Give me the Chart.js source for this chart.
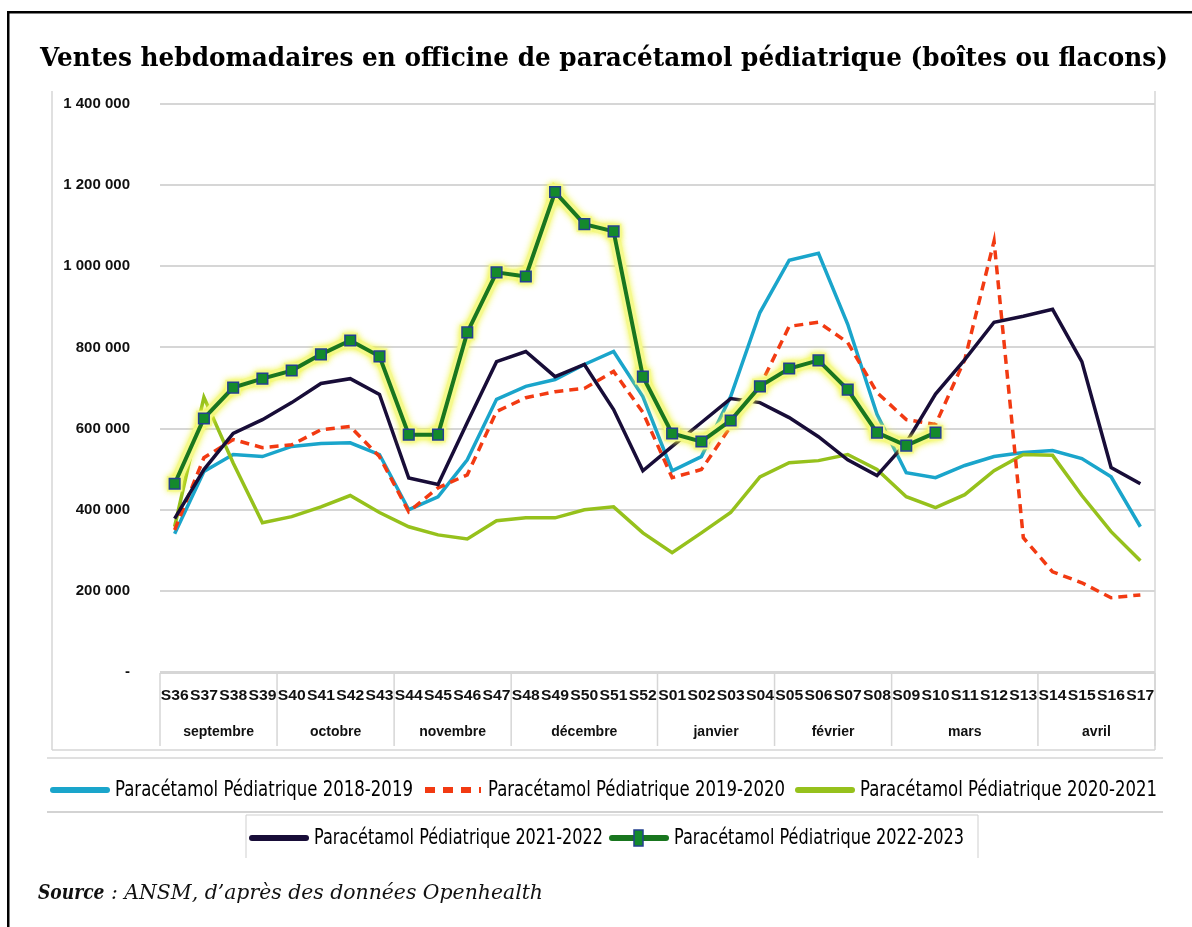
<!DOCTYPE html>
<html>
<head>
<meta charset="utf-8">
<script src="https://cdn.jsdelivr.net/npm/chart.js@4.4.1/dist/chart.umd.min.js"></script>
<style>
  html, body { margin: 0; padding: 0; background: #fff; }
  canvas { display: block; }
</style>
</head>
<body>
<canvas id="chart" width="1192" height="927"></canvas>
<script>
// categories
const weeks = ["S36", "S37", "S38", "S39", "S40", "S41", "S42", "S43", "S44", "S45", "S46", "S47", "S48", "S49", "S50", "S51", "S52",
    "S01", "S02", "S03", "S04", "S05", "S06", "S07", "S08", "S09", "S10", "S11", "S12", "S13", "S14", "S15", "S16", "S17"];
const monthNames = ["septembre", "octobre", "novembre", "décembre", "janvier", "février", "mars", "avril"];
const monthSpans = [4, 4, 4, 5, 4, 4, 5, 4];

// y axis
const yMax = 1400000;
const yStep = 200000;

// series
const s1819 = [341000, 494000, 536000, 531000, 556000, 563000, 565000, 536000, 400000, 432000, 523000, 672000, 704000, 721000, 758000, 790000, 679000,
    496000, 531000, 679000, 886000, 1015000, 1032000, 857000, 635000, 491000, 479000, 509000, 531000, 541000, 546000, 526000, 481000, 358000];
const s1920 = [350000, 528000, 573000, 553000, 560000, 597000, 605000, 531000, 395000, 454000, 486000, 642000, 676000, 691000, 699000, 741000, 640000,
    479000, 499000, 605000, 704000, 852000, 862000, 812000, 689000, 622000, 610000, 770000, 1062000, 331000, 247000, 220000, 183000, 190000];
const s2021 = [358000, 677000, 515000, 368000, 383000, 407000, 435000, 393000, 358000, 338000, 328000, 373000, 380000, 380000, 400000, 407000, 343000,
    294000, 343000, 393000, 481000, 516000, 521000, 536000, 499000, 432000, 405000, 437000, 496000, 536000, 534000, 435000, 346000, 274000];
const s2122 = [378000, 499000, 588000, 622000, 664000, 711000, 723000, 684000, 478000, 462000, 615000, 765000, 790000, 728000, 758000, 647000, 496000,
    556000, 615000, 674000, 664000, 627000, 580000, 523000, 484000, 565000, 685000, 770000, 862000, 877000, 894000, 765000, 504000, 464000];
const s2223 = [464000, 625000, 701000, 723000, 743000, 783000, 817000, 778000, 585000, 585000, 837000, 985000, 975000, 1183000, 1104000, 1086000, 728000,
    588000, 568000, 620000, 704000, 748000, 768000, 696000, 590000, 558000, 590000, null, null, null, null, null, null, null];

const seriesNames = ["Paracétamol Pédiatrique 2018-2019", "Paracétamol Pédiatrique 2019-2020", "Paracétamol Pédiatrique 2020-2021",
    "Paracétamol Pédiatrique 2021-2022", "Paracétamol Pédiatrique 2022-2023"];

const titleText = "Ventes hebdomadaires en officine de paracétamol pédiatrique (boîtes ou flacons)";

const gray = "#d6d6d6";
const sansBold = "bold 14px 'Liberation Sans', Arial, sans-serif";

function line(ctx, x1, y1, x2, y2) {
    ctx.beginPath();
    ctx.moveTo(x1, y1);
    ctx.lineTo(x2, y2);
    ctx.stroke();
}

// draw text squeezed/stretched to a given width (and optional height factor)
function fitText(ctx, text, x, y, width, font, sy) {
    ctx.font = font;
    const w = ctx.measureText(text).width;
    ctx.save();
    ctx.translate(x, y);
    ctx.scale(width / w, sy || 1);
    ctx.fillText(text, 0, 0);
    ctx.restore();
}

function drawLegendItem(ctx, ds, x, y, textW) {
    ctx.save();
    ctx.strokeStyle = ds.borderColor;
    ctx.lineWidth = 6;
    if (ds.borderDash) {
        ctx.lineCap = "butt";
        ctx.setLineDash([10, 8]);
        line(ctx, x + 2, y, x + 58, y);
    } else {
        ctx.lineCap = "round";
        line(ctx, x + 3, y, x + 57, y);
    }
    if (ds.pointStyle === "rect") {
        ctx.fillStyle = ds.pointBackgroundColor;
        ctx.strokeStyle = ds.pointBorderColor;
        ctx.lineWidth = 1.5;
        ctx.fillRect(x + 25, y - 8, 9, 16);
        ctx.strokeRect(x + 25, y - 8, 9, 16);
    }
    ctx.restore();
    ctx.fillStyle = "#000";
    ctx.textAlign = "left";
    ctx.textBaseline = "middle";
    fitText(ctx, ds.label, x + 65, y + 1, textW, "20px 'Liberation Sans Narrow', 'DejaVu Sans Condensed', 'Liberation Sans', sans-serif", 1.05);
}

// soft yellow halo under the 2022-2023 series
const glow = {
    id: "glow",
    beforeDatasetDraw(chart, args) {
        if (chart.data.datasets[args.index].isGlow) {
            chart.ctx.save();
            chart.ctx.shadowColor = "rgba(240, 245, 60, 0.9)";
            chart.ctx.shadowBlur = 6;
        }
    },
    afterDatasetDraw(chart, args) {
        if (chart.data.datasets[args.index].isGlow) chart.ctx.restore();
    }
};

const decor = {
    id: "decor",
    beforeDraw(chart) {
        const ctx = chart.ctx;
        ctx.save();
        ctx.fillStyle = "#fff";
        ctx.fillRect(0, 0, chart.width, chart.height);
        ctx.restore();
    },
    afterDraw(chart) {
        const ctx = chart.ctx;
        const a = chart.chartArea;
        const xs = chart.scales.x;
        ctx.save();

        // outer black frame
        ctx.fillStyle = "#000";
        ctx.fillRect(7, 11, chart.width, 2.5);
        ctx.fillRect(7, 11, 2.5, chart.height);

        // title
        ctx.fillStyle = "#000";
        ctx.textAlign = "left";
        ctx.textBaseline = "middle";
        fitText(ctx, titleText, 40, 59, 1128, "bold 24px 'DejaVu Serif', serif", 1.12);

        // chart border (left, bottom, right)
        ctx.strokeStyle = gray;
        ctx.lineWidth = 1.5;
        line(ctx, 52, 91, 52, 750);
        line(ctx, 52, 750, a.right, 750);
        line(ctx, a.right, 91, a.right, 750);

        // x axis table
        ctx.lineWidth = 2;
        const top = a.bottom + 1;
        line(ctx, a.left, top, a.right, top);
        const step = xs.getPixelForValue(1) - xs.getPixelForValue(0);
        let idx = 0;
        const edges = [a.left];
        monthSpans.forEach((n) => {
            idx += n;
            edges.push(idx < weeks.length ? xs.getPixelForValue(idx) - step / 2 : a.right);
        });
        ctx.lineWidth = 1.5;
        edges.forEach((ex) => line(ctx, ex, top, ex, 746));

        ctx.fillStyle = "#111";
        ctx.textAlign = "left";
        ctx.textBaseline = "middle";
        weeks.forEach((w, i) => {
            fitText(ctx, w, xs.getPixelForValue(i) - 14, 696, 28, sansBold, 1.05);
        });
        ctx.textAlign = "center";
        monthNames.forEach((m, i) => {
            ctx.font = sansBold;
            ctx.fillText(m, (edges[i] + edges[i + 1]) / 2, 732);
        });

        // legend separators
        ctx.strokeStyle = gray;
        ctx.lineWidth = 1.5;
        line(ctx, 47, 758, 1163, 758);
        ctx.strokeStyle = "#c4c4c4";
        line(ctx, 47, 812, 1163, 812);
        ctx.lineWidth = 1;
        ctx.strokeStyle = "#cfcfcf";
        ctx.beginPath();
        ctx.moveTo(246, 858);
        ctx.lineTo(246, 815);
        ctx.lineTo(978, 815);
        ctx.lineTo(978, 858);
        ctx.stroke();

        // legend
        const ds = chart.data.datasets.filter((d) => !d.isGlow);
        drawLegendItem(ctx, ds[0], 50, 790, 298);
        drawLegendItem(ctx, ds[1], 423, 790, 297);
        drawLegendItem(ctx, ds[2], 795, 790, 297);
        drawLegendItem(ctx, ds[3], 249, 838, 289);
        drawLegendItem(ctx, ds[4], 609, 838, 290);

        // source
        ctx.fillStyle = "#111";
        ctx.textAlign = "left";
        const fs = 19;
        ctx.font = "bold italic " + fs + "px 'DejaVu Serif', serif";
        const sw = ctx.measureText("Source").width * 0.9;
        fitText(ctx, "Source", 38, 894, sw, "bold italic " + fs + "px 'DejaVu Serif', serif", 1.08);
        fitText(ctx, " : ANSM, d\u2019après des données Openhealth", 38 + sw, 894, 505 - sw,
            "italic " + fs + "px 'DejaVu Serif', serif", 1.08);

        ctx.restore();
    }
};

const ctx = document.getElementById("chart").getContext("2d");
new Chart(ctx, {
    type: "line",
    data: {
        labels: weeks,
        datasets: [
            {
                label: seriesNames[0], data: s1819, borderColor: "#1aa5cb", borderWidth: 3.5,
                pointRadius: 0, tension: 0, order: 5
            },
            {
                label: seriesNames[1], data: s1920, borderColor: "#f23a12", borderWidth: 3.5,
                borderDash: [9, 6], pointRadius: 0, tension: 0, order: 3
            },
            {
                label: seriesNames[2], data: s2021, borderColor: "#96c11c", borderWidth: 3.5,
                pointRadius: 0, tension: 0, order: 4
            },
            {
                label: seriesNames[3], data: s2122, borderColor: "#180d38", borderWidth: 3.5,
                pointRadius: 0, tension: 0, order: 2
            },
            {
                label: seriesNames[4], data: s2223, borderColor: "#19761f", borderWidth: 4,
                pointStyle: "rect", pointRadius: 7.5, pointBackgroundColor: "#148a2c",
                pointBorderColor: "#23408f", pointBorderWidth: 1.5, tension: 0, order: 0
            },
            {
                label: "glow", isGlow: true, data: s2223, borderColor: "#f5f98c", borderWidth: 11,
                pointStyle: "rect", pointRadius: 11, pointBackgroundColor: "#f5f98c", pointBorderWidth: 0,
                tension: 0, order: 1
            }
        ]
    },
    options: {
        responsive: false,
        animation: false,
        devicePixelRatio: 1,
        layout: { padding: { left: 0, top: 104, right: 37, bottom: 255 } },
        plugins: {
            legend: { display: false },
            title: { display: false },
            tooltip: { enabled: false }
        },
        scales: {
            x: {
                type: "category",
                offset: true,
                grid: { display: false },
                border: { display: false },
                ticks: { display: false },
                afterFit: (s) => { s.height = 0; }
            },
            y: {
                min: 0,
                max: yMax,
                afterFit: (s) => { s.width = 160; },
                grid: { color: gray, lineWidth: 2, drawTicks: false },
                border: { display: false },
                ticks: {
                    stepSize: yStep,
                    padding: 30,
                    color: "#111",
                    font: { family: "'Liberation Sans', Arial, sans-serif", size: 15, weight: "bold" },
                    callback: (v) => (v === 0 ? "-" : v.toLocaleString("fr-FR").replace(/\s/g, " "))
                }
            }
        }
    },
    plugins: [glow, decor]
});
</script>
</body>
</html>
